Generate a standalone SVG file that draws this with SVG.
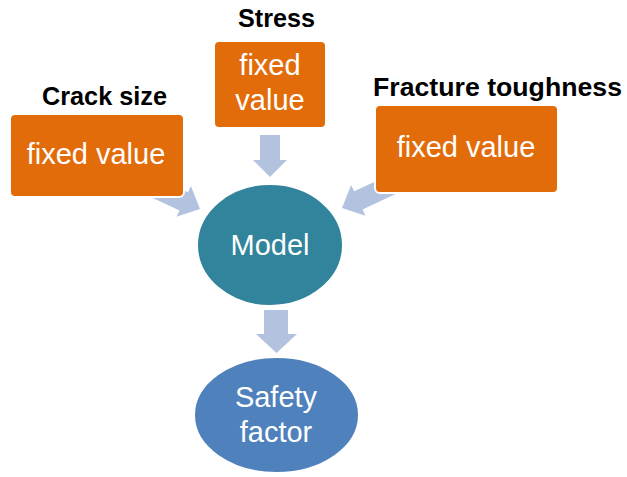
<svg xmlns="http://www.w3.org/2000/svg" width="627" height="477" viewBox="0 0 627 477">
  <style>
    .box { fill: #E36C0A; stroke: #FFFFFF; stroke-width: 2; }
    .arrow { fill: #B3C3DF; }
    .label { font-family: "Liberation Sans", Arial, sans-serif; font-size: 26px; font-weight: bold; fill: #000000; text-anchor: middle; }
    .inner { font-family: "Liberation Sans", Arial, sans-serif; font-size: 29px; fill: #FFFFFF; text-anchor: middle; }
  </style>
  <defs>
    <!-- block arrow pointing along +x with its tip at the origin -->
    <polygon id="diag-arrow" points="0,0 -18,-17 -18,-10 -55,-10 -55,10 -18,10 -18,17"/>
  </defs>
  <rect width="627" height="477" fill="#FFFFFF"/>

  <g id="connectors">
    <use href="#diag-arrow" class="arrow" transform="translate(200 209) rotate(25)"/>
    <use href="#diag-arrow" class="arrow" transform="translate(342 208) rotate(155)"/>
    <polygon class="arrow" points="260,135 280,135 280,160 287,160 270,177 253,160 260,160"/>
    <polygon class="arrow" points="264,310 288,310 288,334 297,334 276.5,353 256,334 264,334"/>
  </g>

  <g id="crack-size">
    <text class="label" x="104.5" y="105" textLength="125" lengthAdjust="spacingAndGlyphs">Crack size</text>
    <rect class="box" x="10" y="114" width="174" height="83" rx="5"/>
    <text class="inner" x="96" y="164">fixed value</text>
  </g>

  <g id="stress">
    <text class="label" x="276.5" y="27" textLength="77" lengthAdjust="spacingAndGlyphs">Stress</text>
    <rect class="box" x="214" y="41" width="112" height="87" rx="5"/>
    <text class="inner" x="270" y="75">fixed</text>
    <text class="inner" x="270" y="110">value</text>
  </g>

  <g id="fracture-toughness">
    <text class="label" x="497.5" y="96" textLength="249" lengthAdjust="spacingAndGlyphs">Fracture toughness</text>
    <rect class="box" x="375" y="105" width="183" height="88" rx="5"/>
    <text class="inner" x="466" y="157">fixed value</text>
  </g>

  <g id="model">
    <ellipse cx="270" cy="245" rx="73" ry="61" fill="#31849B" stroke="#FFFFFF" stroke-width="2"/>
    <text class="inner" x="270" y="255">Model</text>
  </g>

  <g id="safety-factor">
    <ellipse cx="276.5" cy="415" rx="82.5" ry="58" fill="#4F81BD" stroke="#FFFFFF" stroke-width="2"/>
    <text class="inner" x="276" y="407">Safety</text>
    <text class="inner" x="276" y="442">factor</text>
  </g>
</svg>
